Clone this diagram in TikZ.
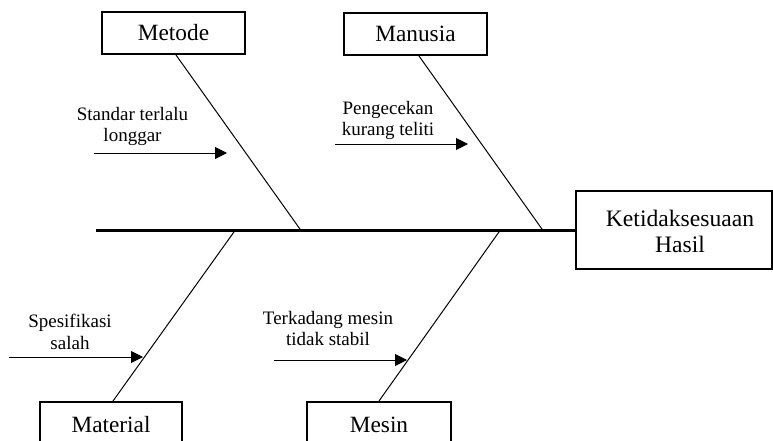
\documentclass[tikz,border=0pt]{standalone}
\usepackage{fontspec}
\setmainfont{Liberation Serif}
\usetikzlibrary{arrows.meta}
\begin{document}
\begin{tikzpicture}[x=1pt,y=-1pt,
  catbox/.style={draw,line width=2pt,minimum width=143pt,minimum height=42pt,inner sep=0pt,font=\fontsize{23.3}{26}\selectfont},
  bone/.style={line width=1pt},
  spine/.style={line width=2.8pt},
  cause/.style={-{Triangle[length=12pt,width=12pt]},line width=1pt},
  causetext/.style={align=center,inner sep=0pt,font=\fontsize{19}{21.5}\selectfont}]
\clip (0,0) rectangle (773,441);
% category boxes
\node[catbox] (metode) at (173.5,33) {Metode};
\node[catbox] (manusia) at (415.5,34) {Manusia};
\node[catbox,minimum width=142pt,minimum height=46pt] (material) at (111,425) {Material};
\node[catbox,minimum width=144pt,minimum height=46pt] (mesin) at (379,425) {Mesin};
% effect box
\node[draw,line width=2pt,minimum width=196pt,minimum height=78pt,inner sep=0pt] (effect) at (673.5,229.5) {};
\node[align=center,inner sep=0pt,font=\fontsize{23.6}{26}\selectfont] (efftext) at (680,231) {Ketidaksesuaan\\Hasil};
% spine
\coordinate (tail) at (96,230.5);
\draw[spine] (tail) -- (tail -| effect.west);
% bones
\coordinate (jm) at (301,230.5);
\coordinate (jn) at (543,230.5);
\coordinate (jt) at (235,230.5);
\coordinate (js) at (500,230.5);
\draw[bone] ([xshift=2.5pt]metode.south) -- (jm);
\draw[bone] ([xshift=3.5pt]manusia.south) -- (jn);
\draw[bone] (jt) -- ([xshift=2pt]material.north);
\draw[bone] (js) -- (mesin.north);
% cause arrows
\coordinate (c1s) at (94,153);  \coordinate (c1e) at (227,153);
\coordinate (c2s) at (335,144); \coordinate (c2e) at (468,144);
\coordinate (c3s) at (9,357);   \coordinate (c3e) at (143,357);
\coordinate (c4s) at (274,360); \coordinate (c4e) at (407,360);
\draw[cause] (c1s) -- (c1e);
\draw[cause] (c2s) -- (c2e);
\draw[cause] (c3s) -- (c3e);
\draw[cause] (c4s) -- (c4e);
% cause texts
\node[causetext] (t1) at (132.5,126.5) {Standar terlalu\\longgar};
\node[causetext] (t2) at (388,120.5) {Pengecekan\\kurang teliti};
\node[causetext] (t3) at (70,332) {Spesifikasi\\salah};
\node[causetext] (t4) at (328,328.5) {Terkadang mesin\\tidak stabil};
\end{tikzpicture}
\end{document}
